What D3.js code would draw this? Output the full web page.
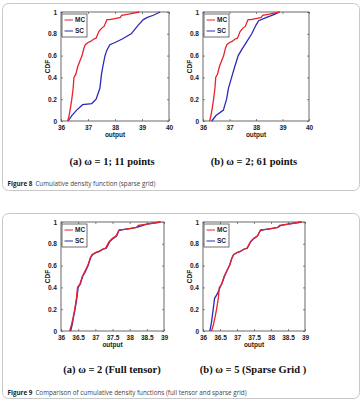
<!DOCTYPE html>
<html><head><meta charset="utf-8">
<script src="https://cdn.jsdelivr.net/npm/d3@7"></script>
<style>
body{margin:0;background:#fff;}
svg{display:block;}
</style></head>
<body>
<svg id="c" width="363" height="401"></svg>
<script>
// ---- data ----
const seriesNames = ["MC", "SC"];
const yTicks = [0, 0.2, 0.4, 0.6, 0.8, 1];
const xTicksTop = [36, 37, 38, 39, 40];
const xTicksBottom = [36, 36.5, 37, 37.5, 38, 38.5, 39];

const mcX = [36.25,36.3,36.35,36.4,36.45,36.48,36.55,36.62,36.7,36.78,36.85,36.9,37.0,37.1,37.2,37.3,37.4,37.5,37.6,37.7,37.8,38.0,38.2,38.25,38.5,38.9];
const mcY = [0,0.05,0.12,0.2,0.3,0.4,0.43,0.5,0.55,0.6,0.67,0.7,0.72,0.73,0.75,0.76,0.82,0.85,0.87,0.93,0.93,0.94,0.95,0.97,0.98,1];

const sc1X = [36.26,36.4,36.58,36.8,37.14,37.3,37.44,37.5,37.55,37.63,37.7,37.81,38.0,38.25,38.6,38.86,39.05,39.2,39.42,39.67];
const sc1Y = [0,0.05,0.1,0.15,0.16,0.2,0.3,0.43,0.5,0.6,0.65,0.7,0.72,0.75,0.8,0.88,0.93,0.95,0.97,1];

const sc2X = [36.33,36.49,36.77,36.89,36.96,37.08,37.2,37.33,37.45,37.58,37.84,38.0,38.1,38.4,38.72,38.88];
const sc2Y = [0,0.05,0.1,0.2,0.3,0.4,0.5,0.6,0.65,0.7,0.8,0.88,0.92,0.95,0.98,1];

const ftX = [36.28,36.32,36.36,36.41,36.46,36.5,36.56,36.63,36.7,36.79,36.86,36.92,37.02,37.12,37.22,37.32,37.42,37.52,37.62,37.68,37.8,38.0,38.2,38.3,38.5,38.9];
const ftY = [0,0.05,0.12,0.2,0.3,0.4,0.43,0.5,0.54,0.6,0.67,0.7,0.72,0.73,0.75,0.76,0.82,0.85,0.87,0.92,0.93,0.94,0.95,0.96,0.98,1];

const sgX = [36.2,36.25,36.3,36.34,36.42,36.5,36.56,36.63,36.7,36.78,36.85,36.9,37.0,37.1,37.2,37.3,37.4,37.5,37.6,37.68,37.8,38.0,38.2,38.3,38.5,38.9];
const sgY = [0,0.08,0.2,0.3,0.34,0.4,0.44,0.5,0.55,0.6,0.67,0.7,0.72,0.73,0.75,0.76,0.82,0.85,0.87,0.92,0.93,0.94,0.95,0.97,0.98,1];

const subCaptions = ["(a) \u03c9 = 1; 11 points", "(b) \u03c9 = 2; 61 points", "(a) \u03c9 = 2 (Full tensor)", "(b) \u03c9 = 5 (Sparse Grid )"];
const figLabels = ["Figure 8", "Figure 9"];
const figTexts = ["Cumulative density function (sparse grid)", "Comparison of cumulative density functions (full tensor and sparse grid)"];

const RED = "#e8222c", BLUE = "#2a2ab8";
const svg = d3.select("#c");

// figure boxes
[[2.5, 3.5, 357, 187], [2.5, 213.5, 357, 185]].forEach(b => {
  svg.append("rect").attr("x", b[0]).attr("y", b[1]).attr("width", b[2]).attr("height", b[3])
    .attr("rx", 6).attr("fill", "none").attr("stroke", "#c8c8c8").attr("stroke-width", 1);
});

function panel(box, xDomain, xTicks, red, blue) {
  const [L, T, R, B] = box;
  const x = d3.scaleLinear().domain(xDomain).range([L, R]);
  const y = d3.scaleLinear().domain([0, 1]).range([B, T]);
  const g = svg.append("g");
  g.append("rect").attr("x", L).attr("y", T).attr("width", R - L).attr("height", B - T)
    .attr("fill", "#fff").attr("stroke", "#444").attr("stroke-width", 0.8);
  // bottom ticks
  const ax = g.append("g").attr("transform", `translate(0,${B})`)
    .call(d3.axisBottom(x).tickValues(xTicks).tickSize(-2).tickPadding(4).tickFormat(d3.format("")));
  const axT = g.append("g").attr("transform", `translate(0,${T})`)
    .call(d3.axisTop(x).tickValues(xTicks).tickSize(-2).tickFormat(""));
  const ay = g.append("g").attr("transform", `translate(${L},0)`)
    .call(d3.axisLeft(y).tickValues(yTicks).tickSize(-2).tickPadding(4).tickFormat(d3.format("")));
  const ayR = g.append("g").attr("transform", `translate(${R},0)`)
    .call(d3.axisRight(y).tickValues(yTicks).tickSize(-2).tickFormat(""));
  [ax, axT, ay, ayR].forEach(a => {
    a.select(".domain").remove();
    a.selectAll("line").attr("stroke", "#555").attr("stroke-width", 0.7);
    a.selectAll("text").attr("font-family", "Liberation Sans, Arial, sans-serif")
      .attr("font-size", 6.5).attr("font-weight", "bold").attr("fill", "#222");
  });
  const line = d3.line().x(d => x(d[0])).y(d => y(d[1]));
  g.append("path").datum(blue).attr("d", line).attr("fill", "none").attr("stroke", BLUE).attr("stroke-width", 1.3);
  g.append("path").datum(red).attr("d", line).attr("fill", "none").attr("stroke", RED).attr("stroke-width", 1.3);
  // labels
  g.append("text").attr("x", (L + R) / 2).attr("y", B + 15.5).attr("text-anchor", "middle")
    .attr("font-family", "Liberation Sans, Arial, sans-serif").attr("font-size", 6.5).attr("font-weight", "bold")
    .attr("fill", "#222").text("output");
  g.append("text").attr("transform", `translate(${L - 11},${(T + B) / 2}) rotate(-90)`).attr("text-anchor", "middle")
    .attr("font-family", "Liberation Sans, Arial, sans-serif").attr("font-size", 6.5).attr("font-weight", "bold")
    .attr("fill", "#222").text("CDF");
  // legend
  const lg = g.append("g").attr("transform", `translate(${L + 1},${T + 2})`);
  lg.append("rect").attr("width", 25).attr("height", 23).attr("fill", "#fff").attr("stroke", "#333").attr("stroke-width", 0.7);
  [RED, BLUE].forEach((c, i) => {
    const yy = 6 + i * 11;
    lg.append("line").attr("x1", 2.5).attr("x2", 11).attr("y1", yy).attr("y2", yy).attr("stroke", c).attr("stroke-width", 1);
    lg.append("text").attr("x", 13).attr("y", yy + 2.3).attr("font-family", "Liberation Sans, Arial, sans-serif")
      .attr("font-size", 6.5).attr("font-weight", "bold").attr("fill", "#222").text(seriesNames[i]);
  });
}

const zip = (a, b) => a.map((v, i) => [v, b[i]]);
panel([61, 12, 169, 121], [36, 40], xTicksTop, zip(mcX, mcY), zip(sc1X, sc1Y));
panel([203, 12, 309, 121], [36, 40], xTicksTop, zip(mcX, mcY), zip(sc2X, sc2Y));
panel([61, 222, 164, 331], [36, 39], xTicksBottom, zip(mcX, mcY), zip(ftX, ftY));
panel([203, 222, 305, 331], [36, 39], xTicksBottom, zip(mcX, mcY), zip(sgX, sgY));

// sub captions
[[112, 165, 0], [254, 165, 1], [112, 373, 2], [253, 373, 3]].forEach(p => {
  svg.append("text").attr("x", p[0]).attr("y", p[1]).attr("text-anchor", "middle")
    .attr("font-family", "Liberation Serif, Times New Roman, serif").attr("font-size", 10.5).attr("font-weight", "bold")
    .attr("fill", "#111").text(subCaptions[p[2]]);
});
// figure captions
[[7.5, 185.5, 0], [7.5, 394.5, 1]].forEach(p => {
  const t = svg.append("text").attr("x", p[0]).attr("y", p[1])
    .attr("font-family", "Open Sans, sans-serif").attr("font-size", 6.3).attr("fill", "#444");
  t.append("tspan").attr("font-weight", "bold").attr("fill", "#222").text(figLabels[p[2]]);
  t.append("tspan").attr("dx", 3).text(figTexts[p[2]]);
});
</script>
</body></html>
